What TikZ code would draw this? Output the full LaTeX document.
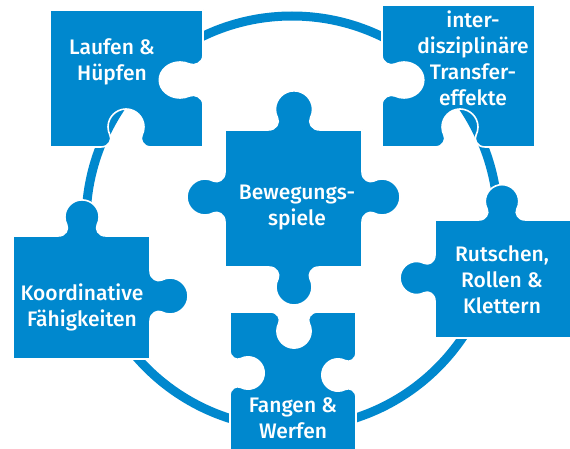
\documentclass[tikz,border=0pt]{standalone}
\usepackage{fontspec}
\setmainfont{Fira Sans}[UprightFont={* Medium}]
\definecolor{pzblue}{RGB}{0,136,206}
% puzzle tab: x, y (base centre), rotation of travel direction, side (+ knob / - blank), scale
\newcommand\pz[5]{{[shift={(#1,#2)},rotate=#3,yscale=#4,scale=#5]
  -- (-25,0) .. controls (-17,0) and (-13.7,7.35) .. (-16,11.8)
  .. controls (-17.3,14.3) and (-18,17.15) .. (-18,20)
  .. controls (-18,29.9) and (-9.9,38) .. (0,38)
  .. controls (9.9,38) and (18,29.9) .. (18,20)
  .. controls (18,17.15) and (17.3,14.3) .. (16,11.8)
  .. controls (13.7,7.35) and (17,0) .. (25,0)}}
\tikzset{
  piece/.style={fill=pzblue,draw=white,line width=1.6pt,line join=round},
  ring/.style={draw=pzblue,line width=9pt},
  label/.style={text=white,align=center,font=\fontsize{21}{26}\selectfont,inner sep=0pt}
}
\begin{document}
\begin{tikzpicture}[x=1pt,y=1pt]
\useasboundingbox (0,0) rectangle (570,448);
\fill[white] (0,0) rectangle (570,448);
% ring
\draw[ring] (292,226) circle (206);
% Laufen & Huepfen
\path[piece] (50,438) -- (203,438) \pz{203}{368}{-90}{-1.15}{1} -- (203,301)
  \pz{126}{301}{180}{-1}{1} -- (50,301) -- cycle;
% interdisziplinaere Transfereffekte
\path[piece] (382,443) -- (535,443) -- (535,301) \pz{460}{301}{180}{-1}{1}
  -- (382,301) \pz{382}{368}{90}{-1.1}{1} -- cycle;
% Bewegungsspiele
\path[piece] (225,318) \pz{294}{318}{0}{1}{1.03} -- (362,318) \pz{362}{251}{-90}{1}{1}
  -- (362,181) \pz{294}{181}{180}{1}{1} -- (225,181) \pz{225}{251}{90}{1}{1} -- cycle;
% Koordinative Faehigkeiten
\path[piece] (13,212) \pz{82}{212}{0}{1}{0.95} -- (150,212) \pz{150}{152}{-90}{1}{1}
  -- (150,89) -- (13,89) -- cycle;
% Rutschen, Rollen & Klettern
\path[piece] (435,228) \pz{502}{228}{0}{1}{0.93} -- (576,228) -- (576,110) -- (435,110)
  \pz{435}{170}{90}{1}{0.92} -- cycle;
% Fangen & Werfen
\path[piece] (230,136) \pz{294}{136}{0}{-1}{0.95} -- (356,136) \pz{356}{73}{-90}{-1}{0.9}
  -- (356,-6) -- (230,-6) \pz{230}{75}{90}{-1}{0.9} -- cycle;
% labels
\node[label] (tL) at (112,386) {Laufen \&\\Hüpfen};
\node[label] (tT) at (473,390) {inter-\\disziplinäre\\Transfer-\\effekte};
\node[label] (tC) at (297,240) {Bewegungs-\\spiele};
\node[label] (tK) at (82,141) {Koordinative\\Fähigkeiten};
\node[label] (tR) at (502,168) {Rutschen,\\Rollen \&\\Klettern};
\node[label] (tF) at (293,30) {Fangen \&\\Werfen};
\end{tikzpicture}
\end{document}
